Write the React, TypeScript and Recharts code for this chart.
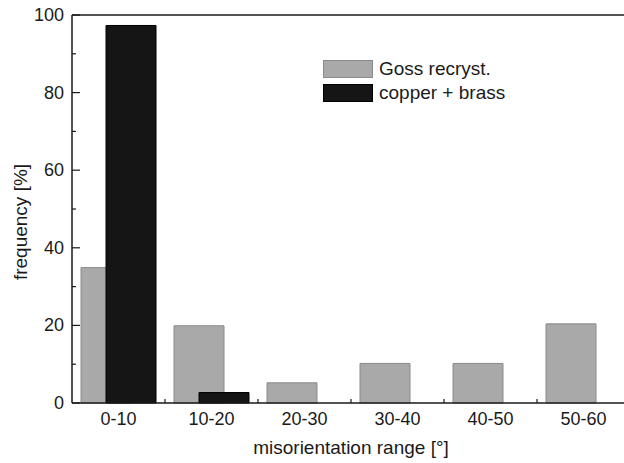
import { BarChart, Bar, XAxis, YAxis, Legend, ReferenceLine } from 'recharts';

// misorientation ranges in degrees
const categories = ['0-10', '10-20', '20-30', '30-40', '40-50', '50-60'];
const gossRecryst = [34.9, 19.9, 5.2, 10.2, 10.2, 20.4];
const copperBrass = [97.3, 2.7, 0, 0, 0, 0];
const yTicks = [0, 10, 20, 30, 40, 50, 60, 70, 80, 90, 100];

const SERIES = [
  { key: 'goss', name: 'Goss recryst.', fill: '#a9a9a9', stroke: '#8a8a8a' },
  { key: 'cb', name: 'copper + brass', fill: '#151515', stroke: '#000000' },
];

const FONT = "'Liberation Sans', Arial, sans-serif";
const INK = '#1a1a1a';
const PLOT_W = 558;
const BAND = PLOT_W / categories.length;

const data = categories.map((range, i) => ({
  range,
  goss: gossRecryst[i],
  cb: copperBrass[i],
}));

function YTick({ x, y, payload }: any) {
  const major = payload.value % 20 === 0;
  return (
    <g>
      <line x1={x} y1={y} x2={x + (major ? 8 : 4)} y2={y} stroke={INK} strokeWidth={1.2} />
      {major && (
        <text x={x - 8} y={y + 6} textAnchor="end" fontSize={18} fill={INK} fontFamily={FONT}>
          {payload.value}
        </text>
      )}
    </g>
  );
}

function XTick({ x, y, payload, index }: any) {
  return (
    <g>
      {index < categories.length - 1 && (
        <line x1={x + BAND / 2} y1={y} x2={x + BAND / 2} y2={y - 4} stroke={INK} strokeWidth={1.2} />
      )}
      <text x={x} y={y + 22} textAnchor="middle" fontSize={18} fill={INK} fontFamily={FONT}>
        {payload.value}
      </text>
    </g>
  );
}

function LegendBox() {
  return (
    <div style={{ fontFamily: FONT, fontSize: 19, color: INK }}>
      {SERIES.map((s) => (
        <div key={s.key} style={{ display: 'flex', alignItems: 'center', height: 24 }}>
          <span
            style={{
              display: 'inline-block',
              width: 48,
              height: 16,
              background: s.fill,
              border: `1px solid ${s.stroke}`,
              marginRight: 6,
            }}
          />
          <span>{s.name}</span>
        </div>
      ))}
    </div>
  );
}

function YLabel({ viewBox }: any) {
  const cx = viewBox.x + 20;
  const cy = viewBox.y + viewBox.height / 2 + 13;
  return (
    <text
      x={cx}
      y={cy}
      transform={`rotate(-90 ${cx} ${cy})`}
      textAnchor="middle"
      dominantBaseline="central"
      fontSize={19}
      fill={INK}
      fontFamily={FONT}
    >
      frequency [%]
    </text>
  );
}

export default function App() {
  return (
    <div style={{ position: 'absolute', left: 0, top: 0, width: 624, height: 463, overflow: 'hidden', background: '#fff' }}>
      <BarChart
        width={634}
        height={463}
        data={data}
        margin={{ top: 15, right: 4, bottom: 0, left: 0 }}
        barSize={50}
        barGap={-25}
        style={{ fontFamily: FONT }}
      >
        <XAxis
          dataKey="range"
          height={60}
          tickLine={false}
          tickSize={0}
          tickMargin={0}
          axisLine={{ stroke: INK, strokeWidth: 1.5 }}
          tick={<XTick />}
          interval={0}
          label={{
            value: 'misorientation range [°]',
            position: 'insideBottom',
            offset: 9,
            fontSize: 19,
            fill: INK,
            fontFamily: FONT,
          }}
        />
        <YAxis
          width={72}
          domain={[0, 100]}
          ticks={yTicks}
          interval={0}
          tickLine={false}
          tickSize={0}
          tickMargin={0}
          axisLine={{ stroke: INK, strokeWidth: 1.5 }}
          tick={<YTick />}
          label={{ content: <YLabel /> }}
        />
        <ReferenceLine y={100} stroke={INK} strokeWidth={1.5} />
        <Legend
          layout="horizontal"
          verticalAlign="middle"
          align="center"
          content={<LegendBox />}
          wrapperStyle={{ left: 323, top: 57, width: 'auto' }}
        />
        {SERIES.map((s) => (
          <Bar
            key={s.key}
            dataKey={s.key}
            name={s.name}
            fill={s.fill}
            stroke={s.stroke}
            strokeWidth={1}
            isAnimationActive={false}
          />
        ))}
      </BarChart>
    </div>
  );
}
